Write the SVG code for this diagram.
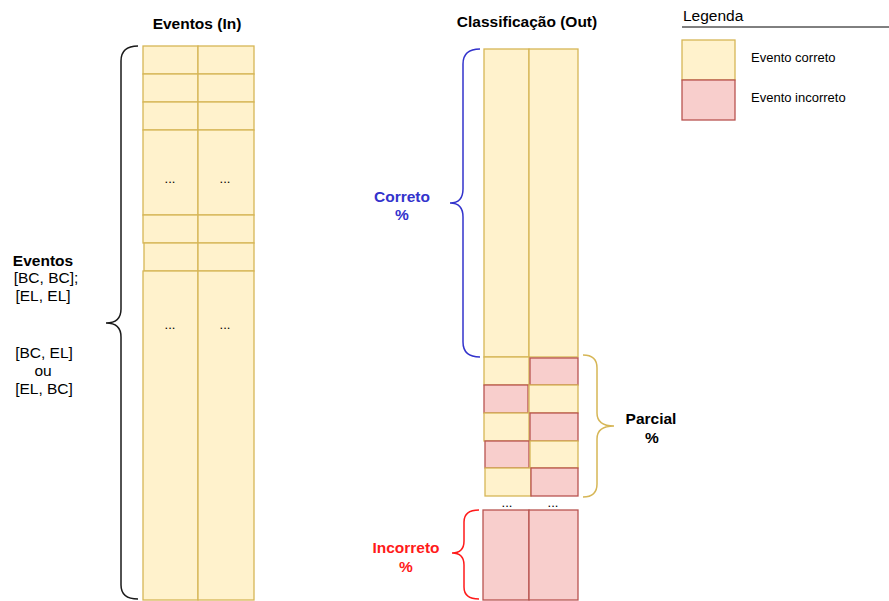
<svg xmlns="http://www.w3.org/2000/svg" width="889" height="601" viewBox="0 0 889 601">
  <style>
    .ok { fill: #fff2cc; stroke: #d6b656; stroke-width: 1.3; }
    .bad { fill: #f8cecc; stroke: #b85450; stroke-width: 1.3; }
    .t { font-family: "Liberation Sans", Arial, sans-serif; fill: #000; }
    .title { font-size: 15.5px; font-weight: bold; text-anchor: middle; }
    .lbl { font-size: 15.5px; text-anchor: middle; }
    .b { font-weight: bold; }
    .dots { font-size: 13px; text-anchor: middle; }
    .leg { font-size: 13px; }
    .brace { fill: none; stroke-width: 1.5; }
  </style>
  <rect width="889" height="601" fill="#fff"/>

  <!-- titles -->
  <text class="t title" x="197" y="29">Eventos (In)</text>
  <text class="t title" x="527" y="27">Classificação (Out)</text>

  <!-- input events column -->
  <g id="eventos-in">
    <rect class="ok" x="143" y="46" width="55" height="28"/>
    <rect class="ok" x="198" y="46" width="56" height="28"/>
    <rect class="ok" x="143" y="74" width="55" height="28"/>
    <rect class="ok" x="198" y="74" width="56" height="28"/>
    <rect class="ok" x="143" y="102" width="55" height="28"/>
    <rect class="ok" x="198" y="102" width="56" height="28"/>
    <rect class="ok" x="143" y="130" width="55" height="85"/>
    <rect class="ok" x="198" y="130" width="56" height="85"/>
    <rect class="ok" x="143" y="215" width="55" height="28"/>
    <rect class="ok" x="198" y="215" width="56" height="28"/>
    <rect class="ok" x="144" y="243" width="54" height="28"/>
    <rect class="ok" x="198" y="243" width="56" height="28"/>
    <rect class="ok" x="143" y="271" width="55" height="329"/>
    <rect class="ok" x="198" y="271" width="56" height="329"/>
    <text class="t dots" x="170" y="183">...</text>
    <text class="t dots" x="225" y="183">...</text>
    <text class="t dots" x="170" y="329">...</text>
    <text class="t dots" x="225" y="329">...</text>
  </g>

  <!-- classification column -->
  <g id="classificacao-out">
    <rect class="ok" x="484" y="49" width="45" height="308"/>
    <rect class="ok" x="529" y="49" width="49" height="308"/>
    <rect class="ok" x="484" y="357" width="45" height="28"/>
    <rect class="bad" x="530" y="358" width="48" height="27"/>
    <rect class="bad" x="484" y="385" width="44" height="28"/>
    <rect class="ok" x="529" y="385" width="49" height="28"/>
    <rect class="ok" x="484" y="413" width="45" height="28"/>
    <rect class="bad" x="530" y="413" width="48" height="28"/>
    <rect class="bad" x="485" y="441" width="44" height="27"/>
    <rect class="ok" x="530" y="441" width="48" height="27"/>
    <rect class="ok" x="485" y="468" width="46" height="28"/>
    <rect class="bad" x="531" y="468" width="47" height="28"/>
    <text class="t dots" x="507" y="507">...</text>
    <text class="t dots" x="553" y="507">...</text>
    <rect class="bad" x="483" y="510" width="46" height="90"/>
    <rect class="bad" x="529" y="510" width="49" height="90"/>
  </g>

  <!-- braces -->
  <g id="connectors">
    <path class="brace" stroke="#1a1a1a" d="M138,46 Q121,46 121,61 L121,309 Q121,323 106,323 Q121,323 121,337 L121,585 Q121,599 138,599"/>
    <path class="brace" stroke="#3333cc" d="M480,49 Q463,49 463,64 L463,189 Q463,203 450,203 Q463,203 463,217 L463,342 Q463,357 480,357"/>
    <path class="brace" stroke="#d6b656" d="M583,355 Q597,355 597,368 L597,413 Q597,426 614,426 Q597,426 597,439 L597,484 Q597,497 583,497"/>
    <path class="brace" stroke="#ff1a1a" d="M479,510 Q464,510 464,522 L464,541 Q464,553 452,553 Q464,553 464,565 L464,587 Q464,599 479,599"/>
  </g>

  <!-- brace labels -->
  <g id="label-eventos">
    <text class="t lbl b" x="43" y="266">Eventos</text>
    <text class="t lbl" x="46" y="283">[BC, BC];</text>
    <text class="t lbl" x="43" y="301">[EL, EL]</text>
    <text class="t lbl" x="44" y="358">[BC, EL]</text>
    <text class="t lbl" x="43" y="376">ou</text>
    <text class="t lbl" x="44" y="394">[EL, BC]</text>
  </g>
  <g id="label-correto">
    <text class="t lbl b" x="402" y="202" style="fill:#3333cc">Correto</text>
    <text class="t lbl b" x="402" y="220" style="fill:#3333cc">%</text>
  </g>
  <g id="label-parcial">
    <text class="t lbl b" x="651" y="424">Parcial</text>
    <text class="t lbl b" x="652" y="443">%</text>
  </g>
  <g id="label-incorreto">
    <text class="t lbl b" x="406" y="553" style="fill:#ff1a1a">Incorreto</text>
    <text class="t lbl b" x="406" y="572" style="fill:#ff1a1a">%</text>
  </g>

  <!-- legend -->
  <g id="legenda">
    <text class="t" x="683" y="21" font-size="15.5">Legenda</text>
    <line x1="682" y1="27" x2="889" y2="27" stroke="#000" stroke-width="1"/>
    <rect class="ok" x="682" y="40" width="53" height="40"/>
    <rect class="bad" x="682" y="80" width="53" height="40"/>
    <text class="t leg" x="751" y="62">Evento correto</text>
    <text class="t leg" x="751" y="102">Evento incorreto</text>
  </g>
</svg>
